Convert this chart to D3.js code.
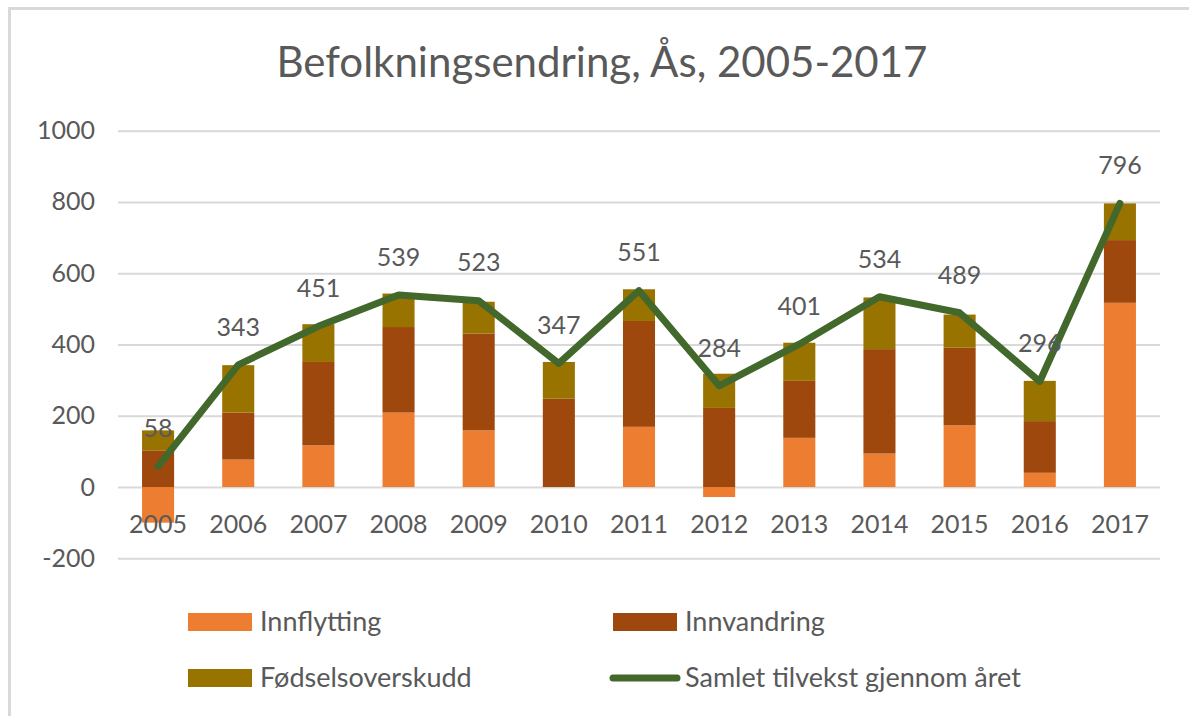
<!DOCTYPE html>
<html>
    <head>
        <meta charset="utf-8">
        <style>
            body { margin: 0; background: #fff; }
            text { font-family: Lato, "Open Sans", sans-serif; fill: #595959; }
        </style>
    </head>
    <body>
        <svg></svg>
        <script src="https://d3js.org/d3.v7.min.js"></script>
        <script>
            // values
            const years = ['2005', '2006', '2007', '2008', '2009', '2010', '2011', '2012', '2013', '2014', '2015', '2016', '2017'];
            const innflytting = [-100, 77, 117, 209, 159, 0, 169, -28, 138, 94, 173, 40, 517];
            const innvandring = [103, 132, 234, 240, 272, 248, 297, 222, 160, 293, 218, 145, 176];
            const fodsel = [56, 133, 106, 94, 89, 103, 89, 96, 107, 145, 93, 113, 103];
            const samlet = [58, 343, 451, 539, 523, 347, 551, 284, 401, 534, 489, 296, 796];
            const yTicks = [-200, 0, 200, 400, 600, 800, 1000];

            const seriesNames = ['Innflytting', 'Innvandring', 'Fødselsoverskudd'];
            const colors = ['#ED7D31', '#9E480E', '#997300'];
            const lineName = 'Samlet tilvekst gjennom året';
            const lineColor = '#43682B';

            const width = 1189;
            const height = 716;
            const plot = {left: 118, right: 1160, top: 130.7, bottom: 558.3};

            const svg = d3.select('svg')
                .attr('width', width).attr('height', height);

            // chart border (only top/left visible in the frame)
            svg.append('rect')
                .attr('x', 9.5).attr('y', 8.5)
                .attr('width', 1300).attr('height', 900)
                .attr('fill', 'none')
                .attr('stroke', '#d9d9d9')
                .attr('stroke-width', 3);

            const rows = years.map((y, i) => ({
                year: y,
                Innflytting: innflytting[i],
                Innvandring: innvandring[i],
                'Fødselsoverskudd': fodsel[i],
                total: samlet[i]
            }));

            const x = d3.scaleBand()
                .domain(years)
                .range([plot.left, plot.right])
                .paddingInner(0.6)
                .paddingOuter(0.3);
            const y = d3.scaleLinear()
                .domain([-200, 1000])
                .range([plot.bottom, plot.top]);

            // gridlines + y labels (plain hyphen for negatives, as in Excel)
            const yAxis = svg.append('g')
                .attr('transform', `translate(${plot.left},0)`)
                .call(d3.axisLeft(y)
                    .tickValues(yTicks)
                    .tickSize(-(plot.right - plot.left))
                    .tickPadding(23)
                    .tickFormat(d => String(d)));
            yAxis.select('.domain').remove();
            yAxis.selectAll('line')
                .attr('stroke', '#d9d9d9')
                .attr('stroke-width', 2);
            yAxis.selectAll('text')
                .style('font-size', '25px')
                .attr('fill', '#595959');

            // stacked bars
            const stack = d3.stack()
                .keys(seriesNames)
                .offset(d3.stackOffsetDiverging);
            const layers = stack(rows);

            svg.append('g')
                .selectAll('g')
                .data(layers)
                .join('g')
                .attr('fill', (d, i) => colors[i])
                .selectAll('rect')
                .data(d => d)
                .join('rect')
                .attr('x', d => x(d.data.year))
                .attr('width', x.bandwidth())
                .attr('y', d => y(Math.max(d[0], d[1])))
                .attr('height', d => Math.abs(y(d[0]) - y(d[1])));

            // x labels
            const xAxis = svg.append('g')
                .attr('transform', `translate(0,${y(0)})`)
                .call(d3.axisBottom(x).tickSize(0));
            xAxis.select('.domain').remove();
            xAxis.selectAll('text')
                .attr('y', 37)
                .attr('dy', '0.35em')
                .style('font-size', '25px')
                .attr('fill', '#595959');

            // total line
            const cx = d => x(d.year) + x.bandwidth() / 2;
            const line = d3.line()
                .x(cx)
                .y(d => y(d.total));
            svg.append('path')
                .datum(rows)
                .attr('d', line)
                .attr('fill', 'none')
                .attr('stroke', lineColor)
                .attr('stroke-width', 7)
                .attr('stroke-linejoin', 'round')
                .attr('stroke-linecap', 'round');

            svg.append('g')
                .selectAll('text')
                .data(rows)
                .join('text')
                .attr('x', cx)
                .attr('y', d => y(d.total) - 38)
                .attr('dy', '0.35em')
                .attr('text-anchor', 'middle')
                .style('font-size', '25px')
                .text(d => d.total);

            // title
            svg.append('text')
                .attr('x', 602)
                .attr('y', 62)
                .attr('dy', '0.35em')
                .attr('text-anchor', 'middle')
                .style('font-size', '42px')
                .text('Befolkningsendring, Ås, 2005-2017');

            // legend
            const legendItems = [
                {name: seriesNames[0], color: colors[0], type: 'rect', x: 188, y: 622},
                {name: seriesNames[1], color: colors[1], type: 'rect', x: 613, y: 622},
                {name: seriesNames[2], color: colors[2], type: 'rect', x: 188, y: 678},
                {name: lineName, color: lineColor, type: 'line', x: 613, y: 678}
            ];
            const legend = svg.append('g')
                .selectAll('g')
                .data(legendItems)
                .join('g')
                .attr('transform', d => `translate(${d.x},${d.y})`);
            legend.filter(d => d.type === 'rect')
                .append('rect')
                .attr('x', 0).attr('y', -9)
                .attr('width', 64).attr('height', 18)
                .attr('fill', d => d.color);
            legend.filter(d => d.type === 'line')
                .append('line')
                .attr('x1', 0).attr('x2', 64)
                .attr('stroke', d => d.color)
                .attr('stroke-width', 7)
                .attr('stroke-linecap', 'round');
            legend.append('text')
                .attr('x', 72)
                .attr('dy', '0.35em')
                .style('font-size', '27px')
                .text(d => d.name);
        </script>
    </body>
</html>
